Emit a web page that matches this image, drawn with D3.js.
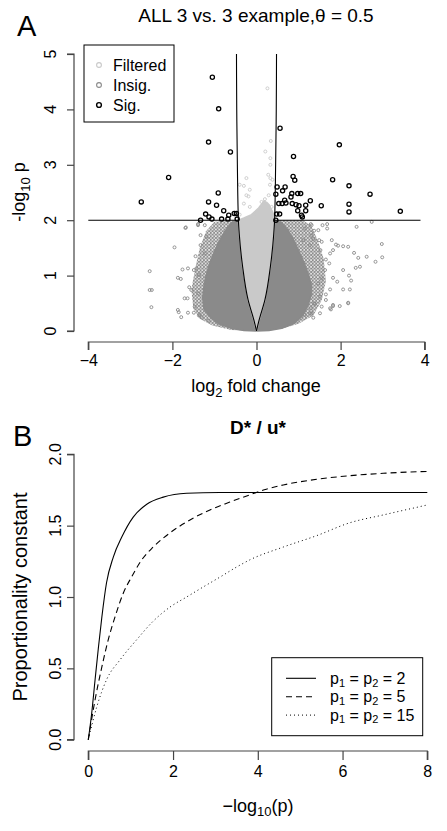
<!DOCTYPE html>
<html><head><meta charset="utf-8">
<script src="https://cdn.jsdelivr.net/npm/d3@7"></script>
<style>body{margin:0;background:#fff}svg{display:block}text{font-family:"Liberation Sans",Arial,sans-serif}</style>
</head><body><div id="chart"></div>
<script>
// ---------- Panel A data ----------
const xTicksA = [-4,-2,0,2,4];
const yTicksA = [0,1,2,3,4,5];
const legendA = ["Filtered","Insig.","Sig."];
// threshold curve (right half, mirrored on the left)
const vCurveX = [0, 0.06, 0.2, 0.33, 0.41, 0.43, 0.455, 0.47, 0.476];
const vCurveY = [0, 0.19, 0.56, 1.16, 1.75, 2.0, 3.0, 4.0, 5.0];
const pThreshold = 2;
const sigPoints = [[-1.05,4.58],[-0.90,4.01],[-1.14,3.41],[-0.62,3.23],[-2.09,2.77],[-2.74,2.33],[-0.91,2.49],[-1.14,2.33],[-0.95,2.27],[-0.78,2.17],[-1.21,2.11],[-1.13,2.06],[-1.33,2.0],[-1.06,2.02],[-0.83,2.02],[-0.66,2.09],[-0.53,2.12],[-0.48,2.12],[-0.68,2.02],[-0.46,2.02],
[0.56,3.66],[1.97,3.36],[0.88,3.15],[0.87,2.79],[0.91,2.72],[1.81,2.73],[2.20,2.62],[2.70,2.47],[3.42,2.16],[2.20,2.29],[2.20,2.15],[1.54,2.26],[0.49,2.60],[0.68,2.60],[0.62,2.53],[0.46,2.47],[0.84,2.48],[0.82,2.42],[0.98,2.48],[1.05,2.48],[0.67,2.36],[0.53,2.30],[0.61,2.30],[0.70,2.31],[0.85,2.30],[0.94,2.28],[1.01,2.26],[1.17,2.27],[1.28,2.35],[0.98,2.17],[1.17,2.17],[1.07,2.09],[1.09,2.06],[0.48,2.11],[0.55,2.11],[0.46,2.0]];
const insigPoints = [[-1.68,1.87],[-1.95,1.51],[-2.54,1.08],[-2.54,0.74],[-2.49,0.74],[-2.5,0.43],[-1.87,0.38],[-1.79,0.25],[-1.63,0.33],[-1.49,0.33],[-1.87,0.96],[-1.80,0.94],[-1.76,1.11],[-1.63,1.13],[-1.6,0.79],[-1.71,0.59],[-1.64,0.59],[-1.55,0.74],[-1.49,1.10],[-1.45,1.35],[-1.33,1.55],[-1.33,1.73],[-1.23,1.91],[-1.39,1.91],[-1.19,1.70],[-1.23,1.40],[-1.43,1.13],[-1.37,1.01],[-1.47,0.44],[-1.35,0.29],[-1.31,0.25],[-1.15,0.19],[-0.91,0.25],[-0.71,0.11],[-1.39,0.68],[-1.85,0.34],[-1.37,0.28],[-1.69,1.86],[-1.39,1.93],
[0.79,0.13],[0.67,0.2],[0.91,0.23],[1.15,0.29],[1.31,0.32],[1.51,0.32],[1.29,0.41],[1.55,0.44],[1.75,0.41],[1.82,0.47],[1.98,0.45],[2.18,0.5],[1.39,0.49],
[2.38,1.88],[2.74,1.97],[2.98,1.57],[2.99,1.33],[2.83,1.25],[2.62,1.34],[2.42,1.32],[2.32,1.41],[2.18,1.52],[2.46,1.16],[2.36,1.14],[2.06,1.10],[2.2,1.0],[2.25,0.91],[1.92,0.89],[2.06,0.75],[2.22,0.75],[2.18,0.51],[1.82,0.45],[1.77,0.39],[1.65,0.56],[1.75,0.75],[1.82,0.96],[2.06,1.53],[1.94,1.54],[1.89,1.56],[1.82,1.46],[1.79,1.64],[1.68,1.85],[1.57,1.91],[1.47,1.82],[1.31,1.91],[1.15,1.85],[1.37,1.81],[1.49,1.64],[1.55,1.61],[1.52,1.46],[1.75,1.40],[1.65,1.29],[1.73,1.22],[1.63,1.10],[1.55,0.95],[1.47,0.86],[1.65,0.66],[1.51,0.62],[1.37,0.5],[1.27,0.32],[1.35,0.24],[1.03,0.26],[1.31,1.73],[1.35,1.66],[1.11,1.64],[1.27,1.55],[1.29,1.93],[1.68,1.93]];
const filteredPoints = [[0.26,4.38],[0.21,3.24],[0.34,3.43],[0.33,3.12],[0.33,3.0],[0.33,2.76],[0.28,2.82],[-0.24,2.76],[-0.4,2.64],[-0.3,2.62],[-0.16,2.55],[0.32,2.64],[0.38,2.73],[0.29,2.45],[0.2,2.38],[-0.24,2.45],[-0.19,2.43],[-0.3,2.3],[-0.16,2.24],[-0.4,2.1],[-0.08,2.09],[0.12,2.33],[0.14,2.24],[0.24,2.3],[0.36,2.24]];
// dense regions (outlines in data units)
const insigDense = [[-0.43,2.0],[-0.6,1.95],[-0.75,1.8],[-0.9,1.6],[-1.02,1.4],[-1.12,1.2],[-1.2,1.0],[-1.25,0.8],[-1.28,0.6],[-1.25,0.4],[-1.1,0.25],[-0.9,0.13],[-0.6,0.05],[-0.3,0.01],[0,0],[0.3,0.01],[0.6,0.05],[0.9,0.14],[1.1,0.28],[1.22,0.45],[1.3,0.65],[1.3,0.85],[1.22,1.05],[1.12,1.25],[1.0,1.45],[0.88,1.65],[0.75,1.82],[0.6,1.95],[0.43,2.0]];
const insigSparse = [[-0.5,2.0],[-1.0,1.97],[-1.2,1.8],[-1.35,1.5],[-1.45,1.15],[-1.55,0.75],[-1.5,0.4],[-1.35,0.22],[-1.05,0.1],[-0.6,0.02],[0,0],[0.6,0.04],[1.0,0.13],[1.35,0.28],[1.55,0.55],[1.65,0.9],[1.6,1.3],[1.45,1.65],[1.3,1.9],[1.1,2.0]];
const filteredTop = [[-0.3,2.04],[-0.12,2.1],[0.05,2.22],[0.18,2.35],[0.3,2.28],[0.4,2.12]];

// ---------- Panel B data ----------
const xTicksB = [0,2,4,6,8];
const yTicksB = [0,0.5,1,1.5,2];
const seriesValues = ["2","5","15"];
const curveP2 = [[0,0],[0.08,0.185],[0.16,0.42],[0.24,0.65],[0.32,0.86],[0.43,1.10],[0.59,1.28],[0.79,1.42],[1.06,1.56],[1.38,1.65],[1.77,1.70],[2.32,1.727],[3.1,1.732],[4,1.732],[6,1.732],[8,1.732]];
const curveP5 = [[0,0],[0.16,0.28],[0.32,0.51],[0.47,0.70],[0.63,0.86],[0.83,1.03],[1.02,1.14],[1.26,1.26],[1.53,1.35],[1.93,1.45],[2.40,1.54],[2.87,1.61],[3.34,1.665],[3.8,1.715],[4.2,1.755],[4.6,1.785],[5.39,1.825],[6.17,1.85],[6.96,1.867],[8,1.88]];
const curveP15 = [[0,0],[0.2,0.23],[0.43,0.42],[0.75,0.56],[1.14,0.70],[1.53,0.83],[1.93,0.93],[2.32,1.0],[2.71,1.07],[3.11,1.14],[3.50,1.21],[3.81,1.26],[4.6,1.35],[5.39,1.43],[6.17,1.52],[6.96,1.575],[8,1.645]];

// ---------- drawing ----------
const W = 447, H = 831;
const font = '"Liberation Sans",Arial,sans-serif';
const svg = d3.select("#chart").append("svg").attr("width",W).attr("height",H);
const defs = svg.append("defs");
const pat = defs.append("pattern").attr("id","tex").attr("width",3.4).attr("height",3.4).attr("patternUnits","userSpaceOnUse");
pat.append("circle").attr("cx",1.7).attr("cy",1.7).attr("r",1.3).attr("fill","none").attr("stroke","#8a8a8a").attr("stroke-width",0.9);

const COL_F = "#c9c9c9", COL_I = "#8a8a8a";

function styleAxis(a){
  a.select(".domain").attr("stroke","#444").attr("stroke-width",1.2);
  a.selectAll(".tick line").attr("stroke","#444").attr("stroke-width",1.2);
  a.selectAll("text").attr("font-family",font).attr("font-size",16).attr("fill","#000");
}

// ===== Panel A =====
const xA = d3.scaleLinear([-4,4],[88.3,424.7]);
const yA = d3.scaleLinear([0,5],[331,54]);
const gA = svg.append("g");
const poly = d3.line().x(d=>xA(d[0])).y(d=>yA(d[1]));

gA.append("path").attr("d", poly(insigSparse)+"Z").attr("fill","url(#tex)");
gA.append("path").attr("d", poly(insigDense)+"Z").attr("fill",COL_I).attr("stroke",COL_I).attr("stroke-width",1.5);

gA.selectAll("circle.ins").data(insigPoints).join("circle").attr("class","ins")
  .attr("cx",d=>xA(d[0])).attr("cy",d=>yA(d[1])).attr("r",1.5)
  .attr("fill","none").attr("stroke",COL_I).attr("stroke-width",0.9);

// filtered region inside V
const rightCurve = vCurveX.map((x,i)=>[x,vCurveY[i]]);
const leftCurve = vCurveX.map((x,i)=>[-x,vCurveY[i]]);
const leftUp = leftCurve.filter(d=>d[1]<=pThreshold);
const rightDown = rightCurve.filter(d=>d[1]<=pThreshold).reverse();
const filtPoly = leftUp.concat(filteredTop, rightDown);
gA.append("path").attr("d", d3.line().x(d=>xA(d[0])).y(d=>yA(d[1])).curve(d3.curveLinearClosed)(filtPoly))
  .attr("fill",COL_F).attr("stroke",COL_F).attr("stroke-width",1.5);
gA.selectAll("circle.flt").data(filteredPoints).join("circle").attr("class","flt")
  .attr("cx",d=>xA(d[0])).attr("cy",d=>yA(d[1])).attr("r",1.5)
  .attr("fill","none").attr("stroke",COL_F).attr("stroke-width",0.9);

// threshold lines
const vline = d3.line().x(d=>xA(d[0])).y(d=>yA(d[1])).curve(d3.curveMonotoneY);
[rightCurve,leftCurve].forEach(c=>gA.append("path").attr("d",vline(c)).attr("fill","none").attr("stroke","#000").attr("stroke-width",1.1));
const xl = vCurveX[vCurveY.indexOf(pThreshold)];
gA.append("line").attr("x1",xA(-4)).attr("x2",xA(-xl)).attr("y1",yA(pThreshold)).attr("y2",yA(pThreshold)).attr("stroke","#000").attr("stroke-width",1.1);
gA.append("line").attr("x1",xA(xl)).attr("x2",xA(3.9)).attr("y1",yA(pThreshold)).attr("y2",yA(pThreshold)).attr("stroke","#000").attr("stroke-width",1.1);

gA.selectAll("circle.sig").data(sigPoints).join("circle").attr("class","sig")
  .attr("cx",d=>xA(d[0])).attr("cy",d=>yA(d[1])).attr("r",2.1)
  .attr("fill","none").attr("stroke","#000").attr("stroke-width",1.3);

// axes A
const axXA = gA.append("g").attr("transform","translate(0,342)").call(d3.axisBottom(xA).tickValues(xTicksA).tickSize(8).tickPadding(5).tickFormat(d=>d<0?"\u2212"+Math.abs(d):String(d)));
const axYA = gA.append("g").attr("transform","translate(74,0)").call(d3.axisLeft(yA).tickValues(yTicksA).tickSize(7).tickFormat(()=>""));
styleAxis(axXA); styleAxis(axYA);
axXA.select(".domain").attr("d",`M${xA(-4)},8V0H${xA(4)}V8`);
axYA.select(".domain").attr("d",`M-7,${yA(0)}H0V${yA(5)}H-7`);
gA.selectAll("text.ytA").data(yTicksA).join("text").attr("class","ytA")
  .attr("transform",d=>`translate(56,${yA(d)}) rotate(-90)`).attr("text-anchor","middle").attr("font-size",16).text(d=>String(d));

// titles A
svg.append("text").attr("x",17).attr("y",36).attr("font-size",29).text("A");
svg.append("text").attr("x",256).attr("y",21.5).attr("text-anchor","middle").attr("font-size",19).text("ALL 3 vs. 3 example,\u03b8 = 0.5");
const xlabA = svg.append("text").attr("x",256).attr("y",392).attr("text-anchor","middle").attr("font-size",18);
xlabA.append("tspan").text("log");
xlabA.append("tspan").attr("font-size",13).attr("dy",5).text("2");
xlabA.append("tspan").attr("dy",-5).text(" fold change");
const ylabA = svg.append("text").attr("transform","translate(25,192) rotate(-90)").attr("text-anchor","middle").attr("font-size",18);
ylabA.append("tspan").text("-log");
ylabA.append("tspan").attr("font-size",13).attr("dy",5).text("10");
ylabA.append("tspan").attr("dy",-5).text(" p");

// legend A
const lgA = svg.append("g");
lgA.append("rect").attr("x",84).attr("y",45).attr("width",90).attr("height",77).attr("fill","#fff").attr("stroke","#000").attr("stroke-width",1);
const legCols = [COL_F,COL_I,"#000"];
legendA.forEach((s,i)=>{
  lgA.append("circle").attr("cx",99).attr("cy",65+i*20).attr("r",2.4).attr("fill","none").attr("stroke",legCols[i]).attr("stroke-width",i==2?1.4:1.1);
  lgA.append("text").attr("x",113).attr("y",65+i*20).attr("dy","0.36em").attr("font-size",16).text(s);
});

// ===== Panel B =====
const xB = d3.scaleLinear([0,8],[88.3,427.3]);
const yB = d3.scaleLinear([0,2],[739.7,454.3]);
const gB = svg.append("g");
const lineB = d3.line().x(d=>xB(d[0])).y(d=>yB(d[1])).curve(d3.curveMonotoneX);
const styles = [null,"6,4","1,3"];
[curveP2,curveP5,curveP15].forEach((c,i)=>{
  gB.append("path").attr("d",lineB(c)).attr("fill","none").attr("stroke","#000").attr("stroke-width",i==2?1:1.1).attr("stroke-dasharray",styles[i]);
});
const axXB = gB.append("g").attr("transform","translate(0,751)").call(d3.axisBottom(xB).tickValues(xTicksB).tickSize(9).tickPadding(6).tickFormat(d=>String(d)));
const axYB = gB.append("g").attr("transform","translate(74,0)").call(d3.axisLeft(yB).tickValues(yTicksB).tickSize(7).tickFormat(()=>""));
styleAxis(axXB); styleAxis(axYB);
axXB.select(".domain").attr("d",`M${xB(0)},9V0H${xB(8)}V9`);
axYB.select(".domain").attr("d",`M-7,${yB(0)}H0V${yB(2)}H-7`);
gB.selectAll("text.ytB").data(yTicksB).join("text").attr("class","ytB")
  .attr("transform",d=>`translate(61,${yB(d)}) rotate(-90)`).attr("text-anchor","middle").attr("font-size",16).text(d=>d3.format(".1f")(d));

svg.append("text").attr("x",13).attr("y",446).attr("font-size",29).text("B");
svg.append("text").attr("x",258).attr("y",434).attr("text-anchor","middle").attr("font-size",19).attr("font-weight","bold").text("D* / u*");
const xlabB = svg.append("text").attr("x",258).attr("y",812).attr("text-anchor","middle").attr("font-size",18);
xlabB.append("tspan").text("\u2212log");
xlabB.append("tspan").attr("font-size",13).attr("dy",4).text("10");
xlabB.append("tspan").attr("dy",-4).text("(p)");
svg.append("text").attr("transform","translate(27,597) rotate(-90)").attr("text-anchor","middle").attr("font-size",20).text("Proportionality constant");

// legend B
const lgB = svg.append("g");
lgB.append("rect").attr("x",271.7).attr("y",657.7).attr("width",151).attr("height",78).attr("fill","#fff").attr("stroke","#000").attr("stroke-width",1);
seriesValues.forEach((v,i)=>{
  const yy = 678.3+i*18.4;
  lgB.append("line").attr("x1",286).attr("x2",316).attr("y1",yy).attr("y2",yy).attr("stroke","#000").attr("stroke-width",i==2?1:1.1).attr("stroke-dasharray",styles[i]);
  const t = lgB.append("text").attr("x",330).attr("y",yy).attr("dy","0.36em").attr("font-size",16);
  t.append("tspan").text("p");
  t.append("tspan").attr("font-size",11).attr("dy",2.5).text("1");
  t.append("tspan").attr("dy",-2.5).text(" = p");
  t.append("tspan").attr("font-size",11).attr("dy",2.5).text("2");
  t.append("tspan").attr("dy",-2.5).text(" = "+v);
});
</script></body></html>
